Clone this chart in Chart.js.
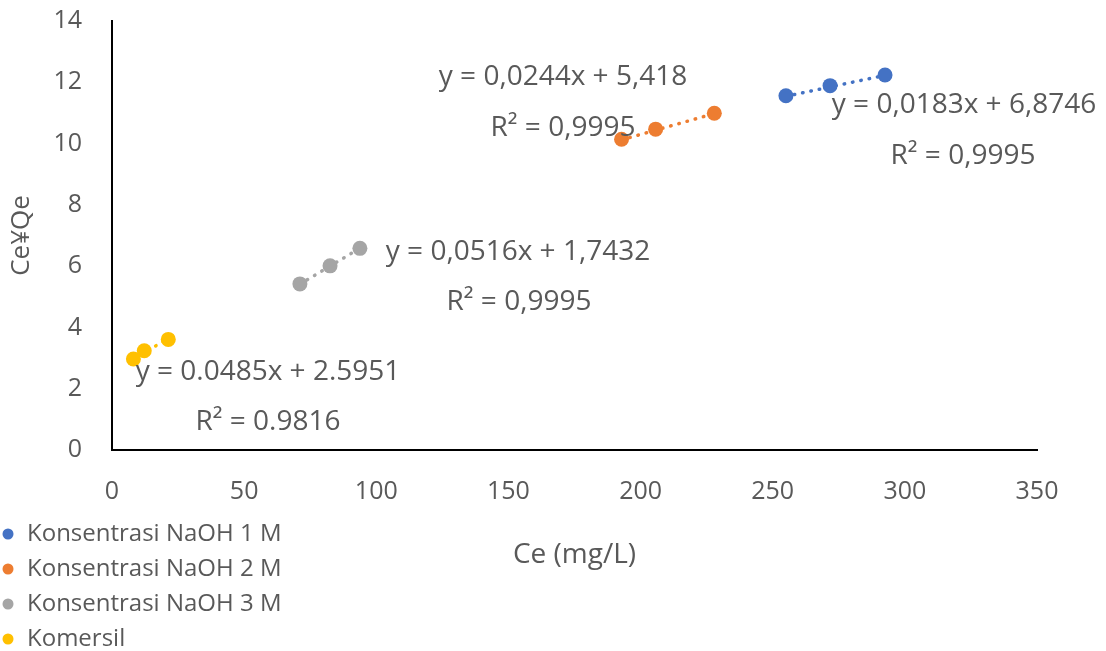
<!DOCTYPE html>
<html>
<head>
<meta charset="utf-8">
<script src="https://cdn.jsdelivr.net/npm/chart.js@4"></script>
<style>
  html, body { margin: 0; padding: 0; background: #fff; }
  #wrap { width: 1106px; height: 651px; position: relative; }
</style>
</head>
<body>
<div id="wrap"><canvas id="chart_canvas"></canvas></div>
<script>
// series names and colours
const seriesNames = ['Konsentrasi NaOH 1 M', 'Konsentrasi NaOH 2 M', 'Konsentrasi NaOH 3 M', 'Komersil'];
const seriesColors = ['#4472C4', '#ED7D31', '#A5A5A5', '#FFC000'];

// Ce (mg/L) and Ce/Qe
const ce1 = [255.0, 271.7, 292.5];
const cq1 = [11.56, 11.89, 12.24];
const ce2 = [192.8, 205.7, 227.9];
const cq2 = [10.14, 10.47, 10.99];
const ce3 = [71.1, 82.5, 93.8];
const cq3 = [5.42, 6.01, 6.58];
const ce4 = [8.1, 12.2, 21.3];
const cq4 = [2.97, 3.24, 3.61];

// linear trendlines as printed on the chart
const slopes = [0.0183, 0.0244, 0.0516, 0.0485];
const intercepts = [6.8746, 5.418, 1.7432, 2.5951];
const eqLabels = ['y = 0,0183x + 6,8746', 'y = 0,0244x + 5,418', 'y = 0,0516x + 1,7432', 'y = 0.0485x + 2.5951'];
const r2Labels = ['R² = 0,9995', 'R² = 0,9995', 'R² = 0,9995', 'R² = 0.9816'];

const xTicks = [0, 50, 100, 150, 200, 250, 300, 350];
const yTicks = [0, 2, 4, 6, 8, 10, 12, 14];

const xs = [ce1, ce2, ce3, ce4];
const ys = [cq1, cq2, cq3, cq4];

// label centres in pixels: [eqX, eqY, r2X, r2Y]
const labelPos = [
  [964, 105, 963, 156],
  [563, 77, 563, 128],
  [518, 252, 519, 302],
  [268, 372, 268, 422]
];

const textColor = '#595959';
const fontFam = "'Open Sans', 'Noto Sans', sans-serif";

var datasets = [];
for (var i = 0; i < 4; i++) {
  var lo = Math.min.apply(null, xs[i]);
  var hi = Math.max.apply(null, xs[i]);
  datasets.push({
    label: seriesNames[i] + ' trend',
    data: [{x: lo, y: slopes[i] * lo + intercepts[i]}, {x: hi, y: slopes[i] * hi + intercepts[i]}],
    showLine: true,
    borderColor: seriesColors[i],
    borderWidth: 3.5,
    borderDash: [0.5, 8],
    borderCapStyle: 'round',
    pointRadius: 0,
    fill: false,
    order: 2
  });
}
for (var i = 0; i < 4; i++) {
  datasets.push({
    label: seriesNames[i],
    data: xs[i].map((v, k) => ({x: v, y: ys[i][k]})),
    backgroundColor: seriesColors[i],
    borderColor: seriesColors[i],
    pointRadius: 7.5,
    pointBorderWidth: 0,
    showLine: false,
    order: 1
  });
}

const extraText = {
  id: 'extraText',
  afterDraw(chart) {
    const c = chart.ctx;
    c.save();
    c.fillStyle = textColor;
    c.font = '28px ' + fontFam;
    c.textAlign = 'center';
    c.textBaseline = 'middle';
    for (var i = 0; i < 4; i++) {
      const p = labelPos[i];
      c.fillText(eqLabels[i], p[0], p[1]);
      c.fillText(r2Labels[i], p[2], p[3]);
    }
    // legend, one item per row
    c.font = '24px ' + fontFam;
    c.textAlign = 'left';
    for (var i = 0; i < 4; i++) {
      const y = 534 + i * 35;
      c.beginPath();
      c.arc(8, y, 5.5, 0, Math.PI * 2);
      c.fillStyle = seriesColors[i];
      c.fill();
      c.fillStyle = textColor;
      c.fillText(seriesNames[i], 27, y);
    }
    c.restore();
  }
};

const config = {
  type: 'scatter',
  data: {datasets: datasets},
  plugins: [extraText],
  options: {
    responsive: true,
    maintainAspectRatio: false,
    animation: false,
    layout: {padding: {top: 0, right: 69, left: 0, bottom: 0}},
    plugins: {
      legend: {display: false},
      tooltip: {enabled: false}
    },
    scales: {
      x: {
        type: 'linear',
        min: 0,
        max: 350,
        afterBuildTicks: (s) => { s.ticks = xTicks.map(v => ({value: v})); },
        afterFit: (s) => { s.height = 201; },
        grid: {display: false, drawTicks: false},
        border: {display: true, color: '#000', width: 2},
        ticks: {color: textColor, font: {size: 25, family: fontFam}, padding: 27, maxRotation: 0},
        title: {display: true, text: 'Ce (mg/L)', color: textColor, font: {size: 28, family: fontFam}, padding: {top: 0, bottom: 79}}
      },
      y: {
        type: 'linear',
        min: 0,
        max: 14,
        afterBuildTicks: (s) => { s.ticks = yTicks.map(v => ({value: v})); },
        afterFit: (s) => { s.width = 112; s.paddingTop = 21; s.paddingBottom = 0; },
        grid: {display: false, drawTicks: false},
        border: {display: true, color: '#000', width: 2},
        ticks: {color: textColor, font: {size: 25, family: fontFam}, padding: 30},
        title: {display: true, text: 'Ce¥Qe', color: textColor, font: {size: 26, family: fontFam}, padding: {top: 6, bottom: 0}}
      }
    }
  }
};

var myChart = new Chart(document.getElementById('chart_canvas'), config);
</script>
</body>
</html>
